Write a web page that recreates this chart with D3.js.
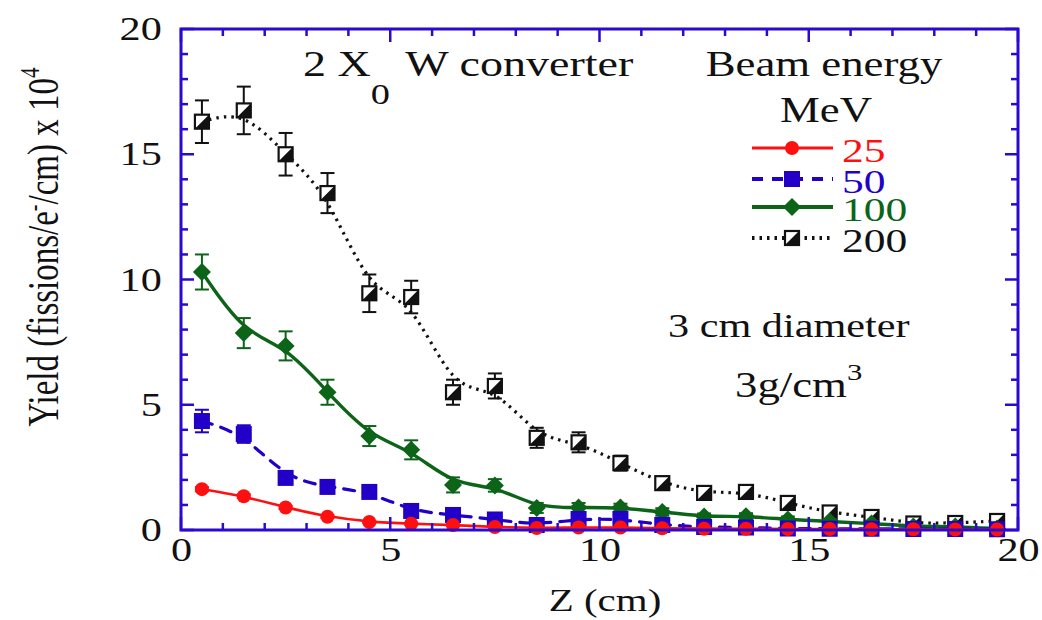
<!DOCTYPE html>
<html>
<head>
<meta charset="utf-8">
<script src="https://cdn.jsdelivr.net/npm/d3@7"></script>
<style>
  html, body { margin: 0; padding: 0; background: #fff; }
  svg { display: block; }
  text { font-family: "Liberation Serif", "DejaVu Serif", serif; }
</style>
</head>
<body>
<svg id="chart" width="1042" height="620"></svg>
<script>
// Depth positions along the target (cm)
const zPositions = [0.5, 1.5, 2.5, 3.5, 4.5, 5.5, 6.5, 7.5, 8.5, 9.5,
                    10.5, 11.5, 12.5, 13.5, 14.5, 15.5, 16.5, 17.5, 18.5, 19.5];

// Fission yield (x 10^4 fissions / e- / cm) per beam energy
const yield25  = [1.63, 1.35, 0.9, 0.53, 0.32, 0.25, 0.2, 0.12, 0.08, 0.1,
                  0.1, 0.07, 0.05, 0.05, 0.04, 0.04, 0.03, 0.03, 0.02, 0.02];
const yield50  = [4.35, 3.83, 2.08, 1.72, 1.52, 0.76, 0.6, 0.42, 0.2, 0.44,
                  0.44, 0.2, 0.12, 0.1, 0.06, 0.05, 0.05, 0.04, 0.04, 0.03];
const yield100 = [10.3, 7.86, 7.35, 5.5, 3.75, 3.2, 1.8, 1.78, 0.88, 0.9,
                  0.9, 0.72, 0.54, 0.55, 0.42, 0.34, 0.26, 0.14, 0.14, 0.06];
const yield200 = [16.3, 16.75, 15.0, 13.45, 9.45, 9.3, 5.5, 5.75, 3.68, 3.5,
                  2.67, 1.87, 1.48, 1.52, 1.08, 0.7, 0.52, 0.26, 0.28, 0.36];

// Statistical uncertainties
const err25  = [0.08, 0.07, 0.06, 0.05, 0.04, 0.03, 0.03, 0.03, 0.02, 0.02,
                0.02, 0.02, 0.02, 0.02, 0.02, 0.02, 0.02, 0.02, 0.02, 0.02];
const err50  = [0.45, 0.35, 0.2, 0.15, 0.12, 0.12, 0.12, 0.15, 0.15, 0.15,
                0.15, 0.12, 0.1, 0.1, 0.1, 0.1, 0.08, 0.08, 0.08, 0.08];
const err100 = [0.7, 0.6, 0.58, 0.5, 0.4, 0.38, 0.3, 0.25, 0.2, 0.18,
                0.15, 0.15, 0.12, 0.12, 0.12, 0.1, 0.1, 0.1, 0.1, 0.1];
const err200 = [0.85, 0.95, 0.85, 0.8, 0.75, 0.65, 0.5, 0.5, 0.4, 0.4,
                0.3, 0.25, 0.2, 0.2, 0.2, 0.18, 0.15, 0.15, 0.15, 0.15];

const energyLabels = ["25", "50", "100", "200"];
const xTicks = [0, 5, 10, 15, 20];
const yTicks = [0, 5, 10, 15, 20];

const svg = d3.select("#chart");
const plotLeft = 181, plotTop = 29, plotRight = 1018, plotBottom = 530;
const SX = 1.28;          // horizontal stretch applied to all lettering
const INK = "#111";

const x = d3.scaleLinear().domain([0, 20]).range([plotLeft, plotRight]);
const y = d3.scaleLinear().domain([0, 20]).range([plotBottom, plotTop]);

const axisBlue = "#2a0ad0";

const series = [
  { label: energyLabels[0], values: yield25,  errs: err25,  color: "#ff1010", width: 2.6, dash: null,   marker: "circle" },
  { label: energyLabels[1], values: yield50,  errs: err50,  color: "#2200c8", width: 3.2, dash: "11,9", marker: "square" },
  { label: energyLabels[2], values: yield100, errs: err100, color: "#0b6418", width: 3.4, dash: null,   marker: "diamond" },
  { label: energyLabels[3], values: yield200, errs: err200, color: "#111111", width: 3.2, dash: "2.5,5", marker: "half" }
];

// Stretched text anchored at (tx, ty)
function label(tx, ty, size, anchor = "start", color = INK) {
  return svg.append("text")
    .attr("transform", `translate(${tx},${ty}) scale(${SX},1)`)
    .attr("text-anchor", anchor).attr("font-size", size).attr("fill", color);
}

// Markers
function drawMarker(g, type, color, cx, cy) {
  if (type === "circle") {
    g.append("circle").attr("cx", cx).attr("cy", cy).attr("r", 7).attr("fill", color);
  } else if (type === "square") {
    g.append("rect").attr("x", cx - 8).attr("y", cy - 8).attr("width", 16).attr("height", 16).attr("fill", color);
  } else if (type === "diamond") {
    g.append("path").attr("d", `M${cx},${cy - 9}L${cx + 9},${cy}L${cx},${cy + 9}L${cx - 9},${cy}Z`).attr("fill", color);
  } else {
    const s = 7;
    g.append("rect").attr("x", cx - s).attr("y", cy - s).attr("width", 2 * s).attr("height", 2 * s)
      .attr("fill", "#fff").attr("stroke", color).attr("stroke-width", 2.2);
    g.append("path").attr("d", `M${cx + s},${cy - s}L${cx + s},${cy + s}L${cx - s},${cy + s}Z`).attr("fill", color);
  }
}

const plot = svg.append("g");

// Draw series back to front: 200 first so lower curves sit on top
[...series].reverse().forEach(s => {
  const pts = zPositions.map((z, i) => ({ z, v: s.values[i], e: s.errs[i] }));
  const line = d3.line().x(d => x(d.z)).y(d => y(d.v)).curve(d3.curveBasis);
  plot.append("path").datum(pts).attr("d", line)
    .attr("fill", "none").attr("stroke", s.color).attr("stroke-width", s.width)
    .attr("stroke-dasharray", s.dash).attr("stroke-linecap", s.marker === "half" ? "butt" : "round");

  const eg = plot.append("g").attr("stroke", s.color).attr("stroke-width", 2);
  pts.forEach(d => {
    const cx = x(d.z), y1 = y(d.v + d.e), y2 = y(Math.max(0, d.v - d.e));
    eg.append("line").attr("x1", cx).attr("x2", cx).attr("y1", y1).attr("y2", y2);
    eg.append("line").attr("x1", cx - 7).attr("x2", cx + 7).attr("y1", y1).attr("y2", y1);
    eg.append("line").attr("x1", cx - 7).attr("x2", cx + 7).attr("y1", y2).attr("y2", y2);
  });
  const mg = plot.append("g");
  pts.forEach(d => drawMarker(mg, s.marker, s.color, x(d.z), y(d.v)));
});

// Frame with inward ticks on all four sides
const minorX = d3.range(0, 21, 1), minorY = d3.range(0, 21, 1);
const fg = svg.append("g").attr("stroke", axisBlue).attr("stroke-width", 2.5);
minorX.forEach(v => {
  const len = v % 5 === 0 ? 13 : 7;
  fg.append("line").attr("x1", x(v)).attr("x2", x(v)).attr("y1", plotBottom).attr("y2", plotBottom - len);
  fg.append("line").attr("x1", x(v)).attr("x2", x(v)).attr("y1", plotTop).attr("y2", plotTop + len);
});
minorY.forEach(v => {
  const len = v % 5 === 0 ? 13 : 7;
  fg.append("line").attr("x1", plotLeft).attr("x2", plotLeft + len).attr("y1", y(v)).attr("y2", y(v));
  fg.append("line").attr("x1", plotRight).attr("x2", plotRight - len).attr("y1", y(v)).attr("y2", y(v));
});
svg.append("rect").attr("x", plotLeft).attr("y", plotTop).attr("width", plotRight - plotLeft).attr("height", plotBottom - plotTop)
  .attr("fill", "none").attr("stroke", axisBlue).attr("stroke-width", 3);

// Tick labels via axis generators
const xAxis = svg.append("g").attr("transform", `translate(0,${plotBottom})`)
  .call(d3.axisBottom(x).tickValues(xTicks).tickSize(0).tickPadding(8).tickFormat(d3.format("d")));
xAxis.select(".domain").remove();
xAxis.selectAll("text").attr("font-size", 33).attr("fill", INK)
  .attr("transform", `scale(${SX},1)`).style("font-family", "Liberation Serif, serif");

const yAxis = svg.append("g").attr("transform", `translate(${plotLeft},0)`)
  .call(d3.axisLeft(y).tickValues(yTicks).tickSize(0).tickPadding(15).tickFormat(d3.format("d")));
yAxis.select(".domain").remove();
yAxis.selectAll("text").attr("font-size", 33).attr("fill", INK)
  .attr("transform", `scale(${SX},1)`).style("font-family", "Liberation Serif, serif");

// Axis titles
label(605, 611, 32, "middle").text("Z (cm)");

const yt = svg.append("text").attr("transform", `translate(58,247) scale(1.35,1) rotate(-90)`)
  .attr("text-anchor", "middle").attr("font-size", 33).attr("fill", INK);
yt.append("tspan").text("Yield (fissions/e");
yt.append("tspan").attr("dy", -12).attr("font-size", 20).text("-");
yt.append("tspan").attr("dy", 12).text("/cm)  x 10");
yt.append("tspan").attr("dy", -14).attr("font-size", 21).text("4");

// Annotations
const t1 = label(303, 76, 36);
t1.append("tspan").text("2 X");
t1.append("tspan").attr("dy", 28).attr("font-size", 30).text("0");
t1.append("tspan").attr("dy", -28).attr("dx", 12).text("W converter");

label(824, 76, 35, "middle").text("Beam energy");
label(826, 122, 35, "middle").text("MeV");

label(668, 337, 33).text("3 cm diameter");
const t3 = label(735, 397, 35);
t3.append("tspan").text("3g/cm");
t3.append("tspan").attr("dy", -17).attr("font-size", 24).text("3");

// Legend
const legendY = [148, 179, 207, 238];
series.forEach((s, i) => {
  const ly = legendY[i];
  const lg = svg.append("g");
  lg.append("line").attr("x1", 752).attr("x2", 833).attr("y1", ly).attr("y2", ly)
    .attr("stroke", s.color).attr("stroke-width", s.width + 0.6).attr("stroke-dasharray", s.dash);
  drawMarker(lg, s.marker, s.color, 792, ly);
  label(842, ly + 14, 34, "start", s.color).text(s.label);
});
</script>
</body>
</html>
